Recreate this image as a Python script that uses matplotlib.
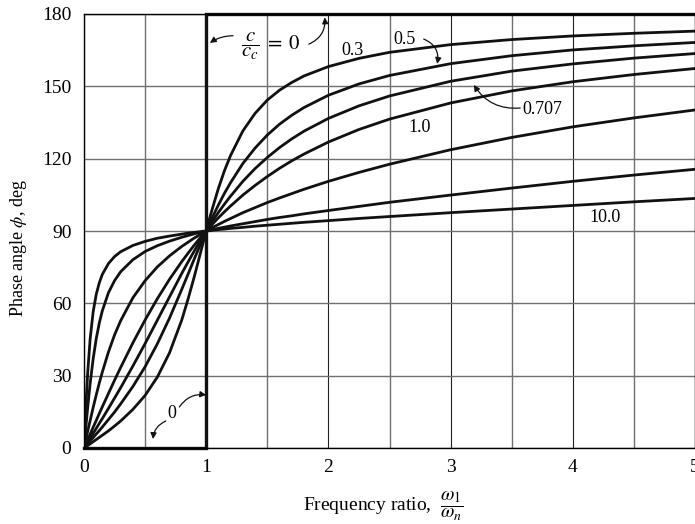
import matplotlib
matplotlib.use("Agg")
import matplotlib.pyplot as plt

plt.rcParams['font.family'] = ['Liberation Serif', 'DejaVu Serif']
plt.rcParams['mathtext.fontset'] = 'stix'

# frequency ratio samples
ratio = [0, 0.01, 0.02, 0.03, 0.05, 0.075, 0.1, 0.125, 0.15, 0.2, 0.25, 0.3, 0.4, 0.5, 0.6,
         0.7, 0.8, 0.85, 0.9, 0.95, 0.975, 1.0, 1.025, 1.05, 1.1, 1.15, 1.2, 1.3, 1.4, 1.5,
         1.6, 1.7, 1.8, 2.0, 2.25, 2.5, 3.0, 3.5, 4.0, 4.5, 5.0]

# phase angle (deg) for each damping ratio c/c_c
phase_03 = [0, 0.3, 0.7, 1.0, 1.7, 2.6, 3.5, 4.4, 5.3, 7.1, 9.1, 11.2, 16.0, 21.8, 29.4,
            39.5, 53.1, 61.5, 70.6, 80.3, 85.2, 90, 94.7, 99.2, 107.7, 115.1, 121.4, 131.5, 138.8, 144.3,
            148.4, 151.6, 154.3, 158.2, 161.6, 164.1, 167.3, 169.4, 170.9, 172.0, 172.9]
phase_05 = [0, 0.6, 1.2, 1.7, 2.9, 4.3, 5.8, 7.2, 8.7, 11.8, 14.9, 18.3, 25.5, 33.7, 43.2,
            53.9, 65.8, 71.9, 78.1, 84.1, 87.1, 90, 92.8, 95.6, 100.8, 105.7, 110.1, 118.0, 124.4, 129.8,
            134.3, 138.0, 141.2, 146.3, 151.0, 154.5, 159.4, 162.7, 165.1, 166.8, 168.2]
phase_0707 = [0, 0.8, 1.6, 2.4, 4.1, 6.1, 8.1, 10.2, 12.2, 16.4, 20.7, 25.0, 34.0, 43.3, 53.0,
              62.7, 72.4, 77.0, 81.5, 85.9, 88.0, 90, 92.0, 94.0, 97.7, 101.2, 104.5, 110.6, 115.9, 120.5,
              124.6, 128.2, 131.4, 136.7, 141.9, 146.0, 152.1, 156.3, 159.3, 161.7, 163.6]
phase_10 = [0, 1.1, 2.3, 3.4, 5.7, 8.6, 11.4, 14.3, 17.1, 22.6, 28.1, 33.4, 43.6, 53.1, 61.9,
            70.0, 77.3, 80.7, 84.0, 87.1, 88.6, 90, 91.4, 92.8, 95.5, 98.0, 100.4, 104.9, 108.9, 112.6,
            116.0, 119.1, 121.9, 126.9, 132.1, 136.4, 143.1, 148.1, 151.9, 154.9, 157.4]
phase_20 = [0, 2.3, 4.6, 6.9, 11.3, 16.8, 22.0, 26.9, 31.5, 39.8, 46.9, 52.8, 62.3, 69.4, 75.1,
            79.7, 83.6, 85.3, 87.0, 88.5, 89.3, 90, 90.7, 91.4, 92.7, 94.0, 95.2, 97.6, 99.7, 101.8,
            103.7, 105.5, 107.3, 110.6, 114.3, 117.7, 123.7, 128.8, 133.2, 136.9, 140.2]
phase_50 = [0, 5.7, 11.3, 16.7, 26.6, 37.0, 45.3, 51.8, 56.9, 64.4, 69.4, 73.1, 78.1, 81.5, 83.9,
            85.8, 87.4, 88.1, 88.8, 89.4, 89.7, 90, 90.3, 90.6, 91.1, 91.6, 92.1, 93.0, 93.9, 94.8,
            95.6, 96.3, 97.1, 98.5, 100.2, 101.9, 104.9, 107.8, 110.6, 113.2, 115.6]
phase_100 = [0, 11.3, 21.8, 31.0, 45.1, 56.5, 63.7, 68.5, 72.0, 76.5, 79.4, 81.4, 84.0, 85.7, 87.0,
             87.9, 88.7, 89.1, 89.4, 89.7, 89.9, 90, 90.1, 90.3, 90.6, 90.8, 91.1, 91.5, 92.0, 92.4,
             92.8, 93.2, 93.6, 94.3, 95.2, 96.0, 97.6, 99.1, 100.6, 102.1, 103.5]

# undamped case (c/c_c = 0)
ratio_0 = [0, 1, 1, 5]
phase_0 = [0, 0, 180, 180]

damped_series = [phase_03, phase_05, phase_0707, phase_10, phase_20, phase_50, phase_100]

x_ticks = [0, 1, 2, 3, 4, 5]
y_ticks = [0, 30, 60, 90, 120, 150, 180]

fig = plt.figure(figsize=(6.95, 5.24), dpi=100)
ax = fig.add_axes([84 / 695, 76 / 524, 611 / 695, 434 / 524])

ax.set_xlim(0, 5)
ax.set_ylim(0, 180)
ax.set_xticks(x_ticks)
ax.set_xticks([0.5, 1.5, 2.5, 3.5, 4.5], minor=True)
ax.set_yticks(y_ticks)
ax.xaxis.grid(True, which='major', color='#222222', lw=0.8)
ax.xaxis.grid(True, which='minor', color='#707070', lw=1.0)
ax.yaxis.grid(True, which='major', color='#707070', lw=1.0)
ax.set_axisbelow(True)
ax.tick_params(which='both', length=0, labelsize=14)
ax.tick_params(axis='x', pad=8)
ax.tick_params(axis='y', pad=9)
for s in ax.spines.values():
    s.set_linewidth(1.0)

for ph in damped_series:
    ax.plot(ratio, ph, color='#111111', lw=2.0, solid_joinstyle='round')
ax.plot(ratio_0, phase_0, color='#111111', lw=2.4, clip_on=False, solid_joinstyle='miter')

ax.set_ylabel(r'Phase angle $\phi$, deg', fontsize=13)
ax.yaxis.set_label_coords(-0.09, 0.46)
ax.set_xlabel(r'Frequency ratio,  $\dfrac{\omega_1}{\omega_n}$', fontsize=14)
ax.xaxis.set_label_coords(0.49, -0.095)

arrow = dict(arrowstyle='-|>', color='#111111', lw=0.9, mutation_scale=9, shrinkA=0, shrinkB=0)

ax.text(1.53, 166.5, r'$\dfrac{c}{c_c}\;=\;0$', fontsize=15, ha='center', va='center')
ax.annotate('', xy=(1.03, 168), xytext=(1.22, 171),
            arrowprops=dict(connectionstyle='arc3,rad=0.15', **arrow))
ax.annotate('', xy=(1.97, 178.6), xytext=(1.84, 167.5),
            arrowprops=dict(connectionstyle='arc3,rad=0.35', **arrow))

ax.text(2.20, 165, '0.3', fontsize=13, ha='center', va='center')
ax.text(2.62, 169.6, '0.5', fontsize=13, ha='center', va='center')
ax.annotate('', xy=(2.89, 159.3), xytext=(2.78, 169.6),
            arrowprops=dict(connectionstyle='arc3,rad=-0.4', **arrow))
ax.text(3.75, 140.2, '0.707', fontsize=13, ha='center', va='center')
ax.annotate('', xy=(3.19, 150.6), xytext=(3.57, 141),
            arrowprops=dict(connectionstyle='arc3,rad=-0.3', **arrow))
ax.text(2.75, 133.1, '1.0', fontsize=13, ha='center', va='center')
ax.text(4.26, 95.4, '10.0', fontsize=13, ha='center', va='center')

ax.text(0.72, 14.5, '0', fontsize=13, ha='center', va='center')
ax.annotate('', xy=(1.0, 22), xytext=(0.78, 17),
            arrowprops=dict(connectionstyle='arc3,rad=-0.3', **arrow))
ax.annotate('', xy=(0.565, 3.7), xytext=(0.67, 11.2),
            arrowprops=dict(connectionstyle='arc3,rad=0.3', **arrow))

fig.savefig('out.png', dpi=100)
